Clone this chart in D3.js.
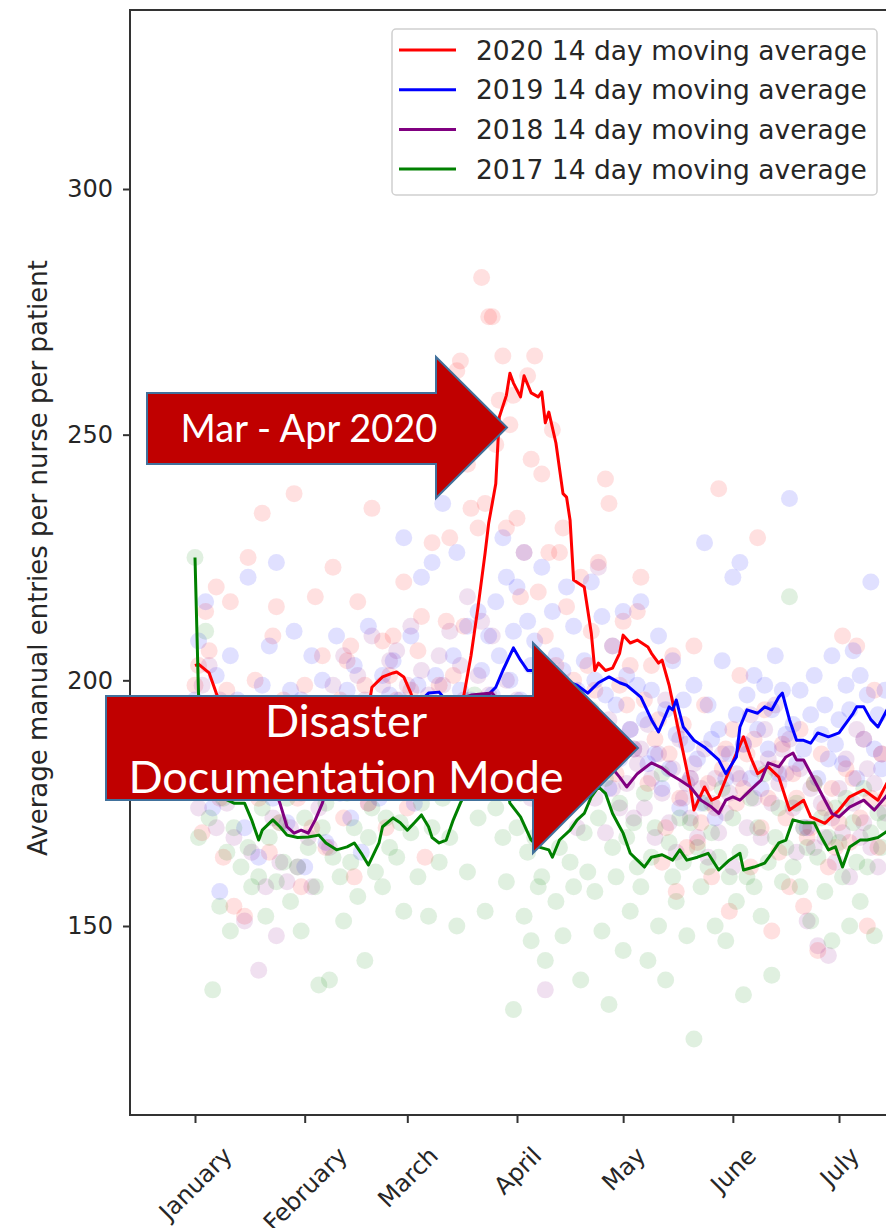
<!DOCTYPE html>
<meta charset="utf-8">
<style>
body { margin: 0; background: #fff; }
svg { display: block; }
.axis text { fill: #262626; font-family: "DejaVu Sans", sans-serif; }
.axis line { stroke: #333; stroke-width: 2; }
.legend text { fill: #262626; font-family: "DejaVu Sans", sans-serif; font-size: 26.5px; }
.callout text { fill: #fff; font-family: Lato, "Open Sans", sans-serif; }
</style>
<svg width="886" height="1228"></svg>
<script src="https://d3js.org/d3.v7.min.js"></script>
<script>

// ---------- data ----------
var years = ["2020", "2019", "2018", "2017"];
var legendLabels = years.map(function(y) { return y + " 14 day moving average"; });
var yTicks = [150, 200, 250, 300];
var yLabel = "Average manual entries per nurse per patient";

// daily values, one per day from January 1
var pts2020 = [
199,203,169,214,206,190,219,176,164,198,216,154,185,192,
152,225,188,200,176,234,183,165,209,215,171,196,180,193,
238,176,158,199,193,170,217,184,205,166,190,223,181,196,
172,204,207,160,216,189,199,175,235,194,185,208,170,201,
209,196,188,220,174,198,182,206,213,164,190,228,187,199,
195,212,229,201,263,265,211,244,235,255,231,282,236,274,
274,248,257,266,231,252,258,233,217,226,262,245,266,218,
242,209,226,251,203,226,231,215,188,200,196,221,193,203,
210,198,224,188,241,236,207,181,199,212,195,203,186,214,
221,196,179,203,188,192,163,170,185,205,157,176,191,166,
180,207,167,171,195,179,160,174,239,182,186,153,190,175,
201,178,185,162,188,229,170,194,176,149,182,165,187,172,
158,181,176,190,154,168,170,179,145,185,174,162,178,166,
171,209,182,167,180,207,172,188,150,176,198,166,185,176];

var pts2019 = [
196,208,180,216,188,174,201,157,192,183,205,178,196,187,
170,221,193,182,164,199,188,207,176,224,185,192,171,198,
210,183,196,162,190,205,178,187,200,167,195,184,209,177,
189,198,172,203,185,165,194,211,180,192,176,201,188,197,
204,183,196,229,187,209,175,199,221,193,182,224,201,190,
236,193,188,205,226,198,184,211,196,190,214,202,187,209,
197,216,205,229,221,200,210,219,196,226,212,203,208,189,
223,200,196,214,205,190,202,219,186,211,198,193,204,188,
220,200,192,213,197,178,207,195,184,214,201,190,186,199,
216,192,183,198,185,209,178,194,182,204,189,174,196,187,
180,199,184,175,228,195,188,172,190,204,180,185,221,193,
224,187,197,180,201,190,178,199,186,194,205,181,198,189,
237,191,183,198,186,170,193,201,180,189,195,184,205,187,
192,183,199,194,206,180,201,188,197,220,186,193,182,198];

var pts2018 = [
192,174,199,185,203,181,170,196,188,175,194,168,186,179,
151,183,165,190,141,177,158,186,172,148,163,181,159,170,
185,162,177,195,168,158,188,174,192,180,166,199,184,190,
205,178,194,187,201,183,196,175,209,190,186,199,181,204,
193,206,188,180,199,211,185,194,202,178,197,190,183,205,
199,186,210,192,180,203,196,217,188,194,201,212,190,197,
209,184,195,191,200,179,187,196,182,188,193,176,185,190,
183,137,192,178,186,174,190,181,176,195,170,187,183,179,
188,176,223,181,169,192,178,185,174,186,179,190,172,183,
186,174,191,180,168,185,177,196,171,182,165,188,176,179,
172,183,168,178,186,164,175,180,169,185,173,177,162,181,
180,187,170,193,176,182,168,190,184,175,195,179,186,181,
188,174,165,182,170,151,178,166,146,175,168,144,172,163,
178,169,184,160,175,190,168,171,182,166,179,162,185,173];

var pts2017 = [
225,168,180,210,172,137,181,154,176,165,149,170,185,162,
178,166,158,190,160,174,152,168,182,159,171,163,176,155,
180,162,149,172,166,185,158,138,170,175,139,164,188,160,
151,177,163,170,156,183,143,168,174,161,179,158,172,166,
185,164,171,153,178,169,190,160,175,182,152,170,187,163,
176,192,168,184,150,195,179,161,188,197,172,183,153,190,
186,174,193,168,159,181,133,170,177,152,165,147,168,158,
160,143,171,182,155,166,148,175,163,158,176,139,169,161,
194,157,172,149,180,134,166,160,175,145,168,153,171,162,
158,177,143,164,170,150,181,139,167,160,155,172,163,148,
171,127,166,158,175,162,169,150,164,178,147,160,172,155,
165,136,160,176,158,170,152,181,163,140,168,174,159,166,
217,162,175,158,170,166,151,179,164,172,157,168,147,174,
167,160,176,150,171,163,155,178,162,169,148,173,166,171];

var maDays2020 = [0,1,2,4,6,8,10,13,16,20,24,28,32,36,40,44,48,50,53,56,57,59,61,63,66,70,73,76,78,80,82,83,85,86,88,89,90,92,93,95,97,98,99,100,102,104,105,106,107,110,112,113,114,116,118,120,121,123,125,128,129,131,132,134,136,138,140,141,144,146,148,151,155,157,159,162,165,168,172,174,178,182,185,189,193,196];
var ma2020 = [203,203.3,202.7,201.5,197.4,194,191,188,186,188,185,182,186,189,186,184,190,198.6,200.7,201.5,201.7,200.7,197.4,193,190,192,194,197,205,215,226,232,240,253.6,258,262.5,260.5,257.7,262,258.5,257.7,258.7,252.4,254.6,248.3,238,237.3,232.6,220.4,219,209.6,202,203.5,202,202.5,205.5,209.2,207.6,208.2,206.8,205.5,203.5,204.1,199,192,185.2,178.3,173.6,178.3,175.6,176.3,181.7,188.5,184.4,181,182.4,180.3,173.6,175.6,172.2,170.9,173.6,176.3,177.7,175.6,179.7];

var maDays2019 = [0,4,8,12,16,20,24,28,32,36,40,44,48,52,56,60,64,66,69,72,76,80,85,87,90,92,94,96,100,104,108,111,114,117,120,122,126,129,131,134,135,136,138,141,144,148,150,153,154,156,159,161,163,165,166,168,170,172,174,176,179,182,184,186,187,189,191,193,196];
var ma2019 = [196,192,188,185,183,186,188,185,183,186,189,190,192,193,192,194,196,197.4,197.6,195,193,195,198.6,202,206.6,204.1,202,202,201,200,199,197.4,199.5,200.7,199.5,199,196.6,192,189.5,194.6,194,196,190.5,187.8,186.4,183.8,181,184.4,190.5,194,193.3,194.6,194,196.6,197.4,192,187.8,187.8,187.2,189.3,188.5,189.3,191.3,193.3,194.6,194.6,192,190.5,194.6];

var maDays2018 = [0,4,8,12,16,20,23,24,26,28,30,32,34,36,38,42,46,50,54,58,62,66,70,74,78,84,88,92,96,100,104,108,112,116,120,122,125,129,132,134,137,140,143,146,148,150,152,154,157,160,162,165,167,169,170,172,175,178,180,182,185,189,192,196];
var ma2018 = [190,186,184,182,180,178,177,175,170.2,168.9,169.5,168.9,171.6,175,180,185,188,190,191,189,191,193,195,196,197,197.4,194,191,189,187,188,186,185,183.8,180.3,178.3,181,183.2,182.2,181,179.7,178.3,175.6,174.2,172.9,175.6,176.3,175.6,177.7,179.7,183.2,182.4,184.4,185.2,183.8,183.8,179.7,175.6,172.9,172.2,174.2,175.6,173.6,177];

var maDays2017 = [0,1,2,3,5,8,11,14,16,18,19,22,24,26,29,32,35,37,40,43,45,47,49,52,53,56,58,60,62,64,66,67,69,71,73,75,77,80,84,87,89,92,95,97,100,101,103,106,108,110,112,114,116,118,120,121,123,125,127,129,132,135,137,139,142,145,148,151,154,155,158,161,163,165,167,169,172,175,177,179,181,183,185,188,190,193,196];
var ma2017 = [225,197,190,185,180,176,175,175,171.6,167.5,169.5,171.6,170.2,168.5,168,168.1,168.5,166.9,165.5,166.1,166.9,164.8,162.4,166.9,170.2,172,171,169.5,171,172.6,170.2,168,166.9,167.5,171.6,175,178,182,185,184,175,172.2,167.5,166.1,165.5,164,167.5,169.5,171.6,172.9,176.3,178.3,177,172.9,170.2,168.9,164.8,163.4,162,164,164.5,163.4,165.5,163.4,164,164.8,161.4,163.4,164.8,161.4,162,162.8,164.8,166.9,167.5,171.6,171,171,168.1,165.5,166.1,162,166.1,167.5,167.5,168,169.5];

var colors = ["#ff0000", "#0000ff", "#800080", "#008000"];
var points = [pts2020, pts2019, pts2018, pts2017];
var maDays = [maDays2020, maDays2019, maDays2018, maDays2017];
var maVals = [ma2020, ma2019, ma2018, ma2017];

// ---------- layout ----------
var svg = d3.select("svg");
var frame = {left: 130, top: 10, bottom: 1115, right: 960};
var start = new Date(Date.UTC(2020, 0, 1));

var x = d3.scaleUtc()
    .domain([start, new Date(Date.UTC(2020, 6, 1))])
    .range([195, 839]);

var y = d3.scaleLinear()
    .domain([150, 300])
    .range([926, 189]);

function day(i) { return d3.utcDay.offset(start, i); }

svg.append("clipPath").attr("id", "plot")
  .append("rect")
    .attr("x", frame.left).attr("y", frame.top)
    .attr("width", frame.right - frame.left).attr("height", frame.bottom - frame.top);

var plot = svg.append("g").attr("clip-path", "url(#plot)");

// scatter of the daily values
points.forEach(function(series, k) {
  plot.append("g")
    .selectAll("circle")
    .data(series)
    .enter().append("circle")
      .attr("cx", function(d, i) { return x(day(i)); })
      .attr("cy", function(d) { return y(d); })
      .attr("r", 8.5)
      .attr("fill", colors[k])
      .attr("fill-opacity", 0.12);
});

// moving average lines
var line = d3.line()
    .x(function(d) { return x(day(d[0])); })
    .y(function(d) { return y(d[1]); });

maVals.forEach(function(vals, k) {
  plot.append("path")
      .datum(vals.map(function(v, i) { return [maDays[k][i], v]; }))
      .attr("fill", "none")
      .attr("stroke", colors[k])
      .attr("stroke-width", 3)
      .attr("stroke-linejoin", "round")
      .attr("d", line);
});

// axes frame (right side is cut off)
svg.append("path")
    .attr("d", "M" + frame.right + "," + frame.top + "H" + frame.left + "V" + frame.bottom + "H" + frame.right)
    .attr("fill", "none")
    .attr("stroke", "#333")
    .attr("stroke-width", 2);

var yAxis = svg.append("g")
    .attr("class", "axis")
    .attr("transform", "translate(" + frame.left + ",0)")
    .call(d3.axisLeft(y).tickValues(yTicks).tickSize(7).tickPadding(10));
yAxis.select(".domain").remove();
yAxis.selectAll("text").attr("font-size", 24);

var months = d3.utcMonth.range(start, new Date(Date.UTC(2020, 6, 2)));
var xAxis = svg.append("g")
    .attr("class", "axis")
    .attr("transform", "translate(0," + frame.bottom + ")")
    .call(d3.axisBottom(x).tickValues(months).tickSize(8).tickFormat(d3.utcFormat("%B")));
xAxis.select(".domain").remove();
xAxis.selectAll("text")
    .attr("font-size", 24)
    .attr("y", 0)
    .attr("dy", "0.35em")
    .attr("text-anchor", "middle")
    .attr("transform", function() {
      var w = this.getComputedTextLength();
      var half = (w + 24 * 1.1) * Math.SQRT1_2 / 2;
      return "translate(0," + (27 + half) + ") rotate(-45)";
    });

svg.append("text")
    .attr("transform", "translate(47,558) rotate(-90)")
    .attr("text-anchor", "middle")
    .attr("font-family", "DejaVu Sans, sans-serif")
    .attr("font-size", 26)
    .attr("fill", "#262626")
    .text(yLabel);

// legend
var legend = svg.append("g").attr("class", "legend");
legend.append("rect")
    .attr("x", 392).attr("y", 29)
    .attr("width", 485).attr("height", 166)
    .attr("rx", 4)
    .attr("fill", "#fff")
    .attr("fill-opacity", 0.9)
    .attr("stroke", "#d0d0d0")
    .attr("stroke-width", 1.5);

var row = legend.selectAll("g.row")
    .data(legendLabels)
  .enter().append("g")
    .attr("class", "row")
    .attr("transform", function(d, i) { return "translate(0," + (50 + i * 39.7) + ")"; });
row.append("line")
    .attr("x1", 399).attr("x2", 456)
    .attr("stroke", function(d, i) { return colors[i]; })
    .attr("stroke-width", 3);
row.append("text")
    .attr("x", 476)
    .attr("dy", "0.36em")
    .text(function(d) { return d; });

// callout arrows
function arrowPath(a) {
  var mid = (a.headTop + a.headBottom) / 2;
  return "M" + a.x0 + "," + a.top + "H" + a.neck + "V" + a.headTop +
    "L" + a.tip + "," + mid + "L" + a.neck + "," + a.headBottom +
    "V" + a.bottom + "H" + a.x0 + "Z";
}

var callouts = [
  {x0: 147, top: 393, bottom: 464, neck: 436, headTop: 357, headBottom: 498, tip: 507,
   cx: 309, size: 38, lines: [{text: "Mar - Apr 2020", y: 442}]},
  {x0: 106, top: 696, bottom: 800, neck: 533, headTop: 643, headBottom: 853, tip: 638,
   cx: 346, size: 45, lines: [{text: "Disaster", y: 737}, {text: "Documentation Mode", y: 793}]}
];

var call = svg.selectAll("g.callout")
    .data(callouts)
  .enter().append("g")
    .attr("class", "callout");
call.append("path")
    .attr("d", arrowPath)
    .attr("fill", "#c00000")
    .attr("stroke", "#41719c")
    .attr("stroke-width", 2);
call.each(function(a) {
  d3.select(this).selectAll("text")
      .data(a.lines)
    .enter().append("text")
      .attr("x", a.cx)
      .attr("y", function(d) { return d.y; })
      .attr("text-anchor", "middle")
      .attr("font-size", a.size)
      .text(function(d) { return d.text; });
});

</script>
